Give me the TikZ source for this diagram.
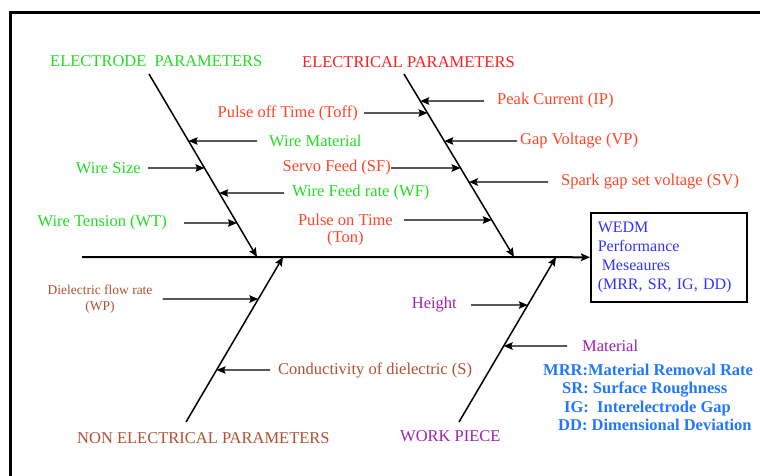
\documentclass[tikz,border=0pt]{standalone}
\usepackage{fontspec}
\setmainfont{Liberation Serif}
\usepackage{tikz}
\usetikzlibrary{positioning, arrows.meta}

\definecolor{electrodegreen}{RGB}{34,221,34}
\definecolor{titlered}{RGB}{255,30,30}
\definecolor{causered}{RGB}{255,69,40}
\definecolor{nonelecbrown}{RGB}{176,80,48}
\definecolor{workpurple}{RGB}{160,32,176}
\definecolor{boxblue}{RGB}{50,50,255}
\definecolor{legendblue}{RGB}{34,119,255}

\begin{document}
\begin{tikzpicture}[x=1pt, y=-1pt, ->, >={Stealth[length=9pt, width=7.5pt, inset=1.5pt]},
    font=\fontsize{16.5}{19}\selectfont]
  % Set the styles
  \tikzset{label/.style={inner sep=0pt},
           bone/.style={line width=1.5pt},
           cause/.style={line width=1.4pt}}

  \useasboundingbox (0,0) rectangle (760,475);
  \draw[-, line width=3pt] (10.5,476) -- (10.5,12.5) -- (761,12.5);

  % Define the ends of the bones
  \coordinate (tail) at (82,257);
  \coordinate (etop) at (149,74);  \coordinate (eend) at (257,257);
  \coordinate (ptop) at (404,74);  \coordinate (pend) at (514,257);
  \coordinate (nbot) at (186,422); \coordinate (nend) at (283,257);
  \coordinate (wbot) at (459,422); \coordinate (wend) at (556,257);

  % Effect box
  \node[draw, -, line width=1.5pt, anchor=north west, minimum width=156pt,
        minimum height=89pt, text width=142pt, inner xsep=7pt, inner ysep=4pt,
        align=left, text=boxblue, font=\fontsize{16}{19}\selectfont]
    (box) at (590,212) {WEDM\\Performance\\\hspace{4pt}Meseaures\\(MRR, SR, IG, DD)};

  % Draw the spine and the bones
  \draw[bone, line width=2pt] (tail) -- (box.west);
  \foreach \a/\b in {etop/eend, ptop/pend, nbot/nend, wbot/wend}{
    \draw[bone] (\a) -- (\b);
  }

  % Electrode parameters
  \node[label, anchor=west, text=electrodegreen] (etitle) at (50,61) {ELECTRODE\ \ PARAMETERS};
  \node[label, anchor=west, text=electrodegreen] (wmat) at (269,141) {Wire Material};
  \node[label, anchor=east, text=electrodegreen] (wsize) at (141,168) {Wire Size};
  \node[label, anchor=west, text=electrodegreen] (wfeed) at (292,193) {Wire Feed rate (WF)};
  \node[label, anchor=east, text=electrodegreen] (wtens) at (167,223) {Wire Tension (WT)};

  % Electrical parameters
  \node[label, anchor=west, text=titlered] (ptitle) at (302,62) {ELECTRICAL PARAMETERS};
  \node[label, anchor=east, text=causered] (toff) at (358,113) {Pulse off Time (Toff)};
  \node[label, anchor=west, text=causered] (ip) at (497,101) {Peak Current (IP)};
  \node[label, anchor=west, text=causered] (vp) at (520,141) {Gap Voltage (VP)};
  \node[label, anchor=east, text=causered] (sf) at (391,168) {Servo Feed (SF)};
  \node[label, anchor=west, text=causered] (sv) at (561,182) {Spark gap set voltage (SV)};
  \node[label, anchor=east, text=causered] (ton) at (393,220) {Pulse on Time};
  \node[label, below=5pt of ton, text=causered] (ton2) {(Ton)};

  % Non electrical parameters
  \node[label, anchor=west, text=nonelecbrown] (ntitle) at (77,438) {NON ELECTRICAL PARAMETERS};
  \node[label, align=center, text=nonelecbrown, font=\fontsize{13.5}{16}\selectfont]
    (wp) at (100,299) {Dielectric flow rate\\(WP)};
  \node[label, anchor=west, text=nonelecbrown] (cond) at (278,370) {Conductivity of dielectric (S)};

  % Work piece
  \node[label, anchor=west, text=workpurple] (wtitle) at (400,436) {WORK PIECE};
  \node[label, anchor=east, text=workpurple] (height) at (457,305) {Height};
  \node[label, anchor=west, text=workpurple] (mat) at (582,346) {Material};

  % Connect the causes to the bones
  \foreach \n/\t/\e/\s/\g in {wmat/etop/eend/west/12, wsize/etop/eend/east/7,
      wfeed/etop/eend/west/8, wtens/etop/eend/east/17, toff/ptop/pend/east/6,
      ip/ptop/pend/west/13, vp/ptop/pend/west/3, sf/ptop/pend/east/0,
      sv/ptop/pend/west/13, ton/ptop/pend/east/11, wp/nbot/nend/east/10,
      cond/nbot/nend/west/8, height/wbot/wend/east/14, mat/wbot/wend/west/15}{
    \draw[cause, shorten <=\g pt] (\n.\s) -- (intersection of \n.west--\n.east and \t--\e);
  }

  % Legend
  \node[label, anchor=north west, align=left, text=legendblue,
        font=\fontsize{16.5}{18.2}\selectfont\bfseries] (legend) at (543,364)
    {MRR:Material Removal Rate\\\hspace{19pt}SR: Surface Roughness\\
     \hspace{21pt}IG:\ \ Interelectrode Gap\\\hspace{15pt}DD: Dimensional Deviation};
\end{tikzpicture}
\end{document}
